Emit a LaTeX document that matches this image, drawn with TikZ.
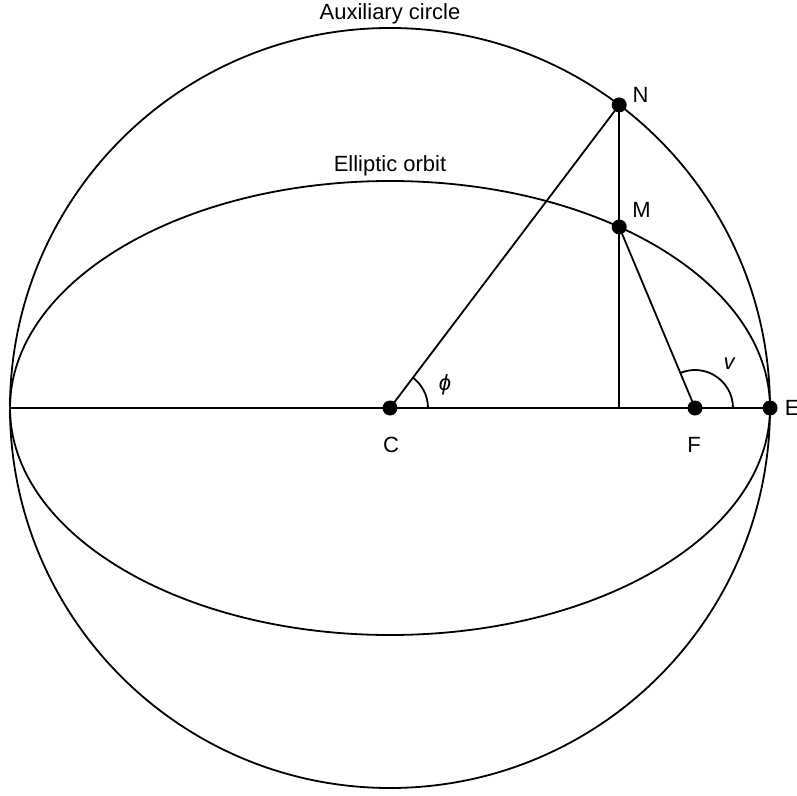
\documentclass[tikz,border=0pt]{standalone}
\usepackage{fontspec}
\setmainfont{Liberation Sans}
\usepackage{tikz}
\usetikzlibrary{positioning}

\begin{document}
\begin{tikzpicture}[x=1pt,y=1pt,line width=1.8pt,
  font=\fontsize{22}{26}\selectfont,
  dot/.style={circle,fill=black,inner sep=0pt,minimum size=15pt},
  lbl/.style={inner sep=0pt}]
\useasboundingbox (-390,-387) rectangle (407,408);
% circle and orbit
\draw (0,0) circle (380);
\draw (0,0) ellipse (380 and 227);
\node[lbl, anchor=base] (auxtxt) at (0,388) {Auxiliary circle};
\node[lbl, anchor=base] (orbtxt) at (0,236) {Elliptic orbit};
% points
\coordinate (W) at (-380,0);
\coordinate (C) at (0,0);
\coordinate (F) at (305,0);
\coordinate (E) at (380,0);
\coordinate (N) at ({380*cos(52.9)},{380*sin(52.9)});
\coordinate (M) at ({380*cos(52.9)},{227*sin(52.9)});
\coordinate (P) at (N |- C);
\draw (W) -- (E);
\draw (C) -- (N);
\draw (N) -- (P);
\draw (M) -- (F);
% angles
\draw ([xshift=38pt]C) arc (0:52.9:38);
\draw ([xshift=38pt]F) arc (0:112.8:38);
\node[lbl] (phi) at (55,23) {\itshape ϕ};
\node[lbl] (nu) at (339,44) {\itshape v};
% dots
\foreach \p in {C,F,E,N,M}
  \node[dot] (dot\p) at (\p) {};
\node[lbl] (Ntxt) at (250.5,313) {N};
\node[lbl] (Mtxt) at (251.5,198.5) {M};
\node[lbl] (Ctxt) at (1,-36.5) {C};
\node[lbl] (Ftxt) at (304,-36.5) {F};
\node[lbl, anchor=west] (Etxt) at (394,0) {E};
\end{tikzpicture}
\end{document}
